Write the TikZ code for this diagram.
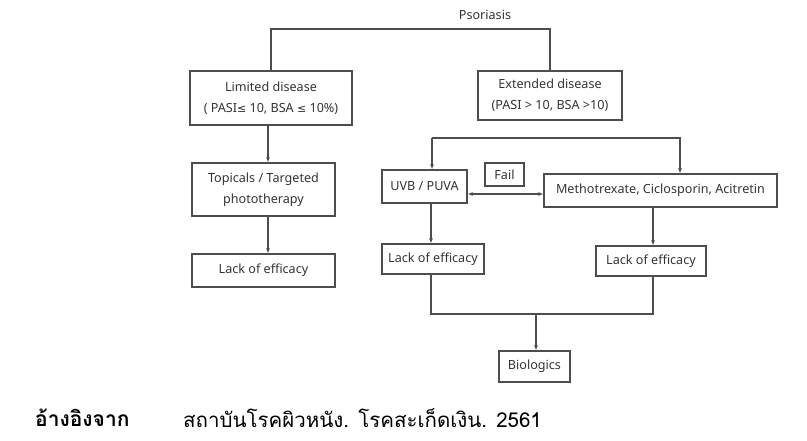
\documentclass[tikz,border=0pt]{standalone}
\usepackage{fontspec}
\setmainfont{Noto Sans}
\newfontfamily\symf{DejaVu Sans}
\newfontfamily\thaifont[Script=Thai]{Loma}
\usetikzlibrary{arrows.meta}
\definecolor{linec}{HTML}{4D4D4D}
\definecolor{txtc}{HTML}{333333}
\newcommand{\lesym}{{\symf\fontsize{11}{12}\selectfont ≤}}
\begin{document}
\begin{tikzpicture}[x=1pt,y=-1pt,
  box/.style={draw=linec, line width=1.2pt, inner sep=0pt, text=txtc,
    font=\fontsize{12.6}{21}\selectfont, align=center},
  conn/.style={draw=linec, line width=1.2pt},
  arr/.style={conn, -{Latex[length=5pt,width=4pt]}},
  arrboth/.style={conn, {Latex[length=5pt,width=4pt]}-{Latex[length=5pt,width=4pt]}}]
\useasboundingbox (0,0) rectangle (807,440);
\node[text=txtc, font=\fontsize{12.6}{14}\selectfont] (pso) at (485,15) {Psoriasis};
\node[box, minimum width=162pt, minimum height=54pt] (lim) at (271,98) {Limited disease\\( PASI\lesym\ 10, BSA \lesym\ 10\%)};
\node[box, minimum width=144pt, minimum height=49pt] (ext) at (550,95.5) {Extended disease\\(PASI > 10, BSA >10)};
\node[box, minimum width=143pt, minimum height=53pt] (top) at (263.5,189.5) {Topicals / Targeted\\phototherapy};
\node[box, minimum width=143pt, minimum height=33pt] (lackl) at (263.5,270.5) {Lack of efficacy};
\node[box, minimum width=85pt, minimum height=33pt] (uvb) at (424.5,186.5) {UVB / PUVA};
\node[box, minimum width=39pt, minimum height=23pt] (fail) at (504.5,174.5) {Fail};
\node[box, minimum width=233pt, minimum height=33pt] (meth) at (660.5,190.5) {Methotrexate, Ciclosporin, Acitretin};
\node[box, minimum width=102pt, minimum height=30pt] (lackm) at (433,259) {Lack of efficacy};
\node[box, minimum width=110pt, minimum height=30pt] (lackr) at (651,261) {Lack of efficacy};
\node[box, minimum width=71pt, minimum height=31pt] (bio) at (534.5,366.5) {Biologics};
% coordinates
\coordinate (topc) at (410,29);
\coordinate (xa) at (268,0);
\coordinate (bl) at (432,138);
\coordinate (br) at (680,138);
\coordinate (dy) at (0,194);
\coordinate (xm) at (431,0);
\coordinate (xr) at (653,0);
\coordinate (mrg) at (536,314);
% connectors
\draw[conn] (lim.north) |- (topc) -| (ext.north);
\draw[arr] (lim.south -| xa) -- (top.north -| xa);
\draw[arr] (top.south -| xa) -- (lackl.north -| xa);
\draw[arr] (bl) -- (uvb.north -| bl);
\draw[arr] (bl) -- (br) -- (meth.north -| br);
\draw[arrboth] (uvb.east |- dy) -- (meth.west |- dy);
\draw[arr] (uvb.south -| xm) -- (lackm.north -| xm);
\draw[arr] (meth.south -| xr) -- (lackr.north -| xr);
\draw[conn] (lackm.south -| xm) |- (mrg) -| (lackr.south -| xr);
\draw[arr] (mrg) -- (bio.north -| mrg);
% reference line
\node[anchor=west, inner sep=0pt, font=\thaifont\bfseries\fontsize{21}{24}\selectfont] (refl) at (35,418) {อ้างอิงจาก};
\node[anchor=west, inner sep=0pt, font=\thaifont\fontsize{20.5}{24}\selectfont] (reft) at (183,418) {สถาบันโรคผิวหนัง. โรคสะเก็ดเงิน. 2561};
\end{tikzpicture}
\end{document}
